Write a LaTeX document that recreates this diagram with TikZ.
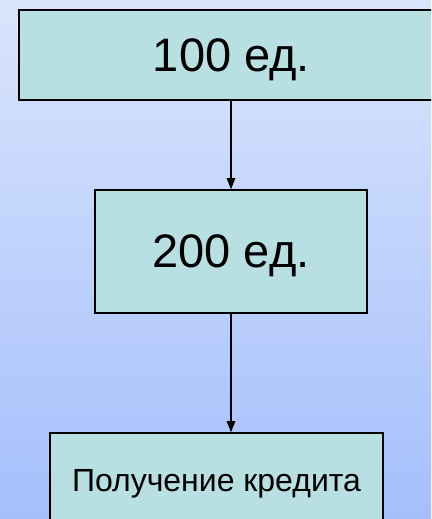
\documentclass[tikz,border=0pt]{standalone}
\usepackage{fontspec}
\setmainfont{Liberation Sans}
\usetikzlibrary{arrows.meta}
\definecolor{boxfill}{RGB}{184,224,226}
\definecolor{bgtop}{RGB}{218,229,252}
\definecolor{bgbot}{RGB}{164,191,252}
\tikzset{
  box/.style={draw=black, line width=1.6pt, fill=boxfill, inner sep=0pt, anchor=center, text depth=0pt},
  conn/.style={line width=1.1pt, -{Triangle[length=11pt,width=8.5pt]}}
}
\begin{document}
\begin{tikzpicture}[x=1pt,y=1pt]
\useasboundingbox (0,0) rectangle (431,-519);
\clip (0,0) rectangle (431,-519);
\shade[top color=bgtop, bottom color=bgbot] (0,0) rectangle (431,-519);
\node[box, minimum width=425pt, minimum height=90pt] (b1) at (231.5,-55)
  {\fontsize{47}{56}\selectfont 100 ед.};
\node[box, minimum width=272pt, minimum height=123pt] (b2) at (231,-251.5)
  {\fontsize{47}{56}\selectfont 200 ед.};
\node[box, minimum width=333pt, minimum height=94pt] (b3) at (216.5,-480)
  {\fontsize{32}{38}\selectfont Получение кредита};
\draw[conn] (b1.south -| b2.north) -- (b2.north);
\draw[conn] (b2.south) -- (b2.south |- b3.north);
\end{tikzpicture}
\end{document}
